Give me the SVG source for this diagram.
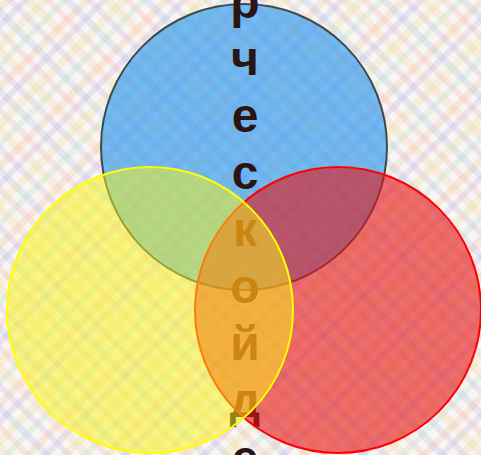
<svg xmlns="http://www.w3.org/2000/svg" width="481" height="455" viewBox="0 0 481 455">
<defs>
<pattern id="plaid" width="56" height="56" patternUnits="userSpaceOnUse" patternTransform="rotate(45)">
<rect width="56" height="56" fill="#f8f5f3"/>
<rect x="2" width="7" height="56" fill="#f0b080" opacity="0.22"/>
<rect x="15" width="6" height="56" fill="#b0a0e0" opacity="0.22"/>
<rect x="28" width="8" height="56" fill="#e8d870" opacity="0.2"/>
<rect x="43" width="6" height="56" fill="#90e0b0" opacity="0.2"/>
<rect y="5" width="56" height="7" fill="#a0b0e0" opacity="0.22"/>
<rect y="19" width="56" height="6" fill="#f0a0b0" opacity="0.2"/>
<rect y="32" width="56" height="8" fill="#f0c890" opacity="0.22"/>
<rect y="46" width="56" height="6" fill="#c0a0d8" opacity="0.2"/>
</pattern>
<style>
.letter{font-family:"Liberation Sans",Arial,sans-serif;font-weight:bold;font-size:48px;fill:#2b1512;text-anchor:middle}
</style>
</defs>
<rect width="481" height="455" fill="url(#plaid)"/>
<g id="blue">
<circle cx="244" cy="147" r="143" fill="rgb(45,152,240)" fill-opacity="0.65" stroke="#3d4b4d" stroke-width="2"/>
</g>
<g id="letters">
<text class="letter" x="245" y="18">р</text>
<text class="letter" x="245" y="75">ч</text>
<text class="letter" x="245" y="132">е</text>
<text class="letter" x="245" y="189">с</text>
<text class="letter" x="245" y="246">к</text>
<text class="letter" x="245" y="303">о</text>
<text class="letter" x="245" y="360">й</text>
<text class="letter" x="245" y="417">д</text>
<text class="letter" x="245" y="474">е</text>
</g>
<g id="red">
<circle cx="338" cy="310" r="143" fill="rgb(230,20,20)" fill-opacity="0.6" stroke="#ff0000" stroke-width="2"/>
</g>
<g id="yellow">
<circle cx="150" cy="310" r="143" fill="rgb(250,245,20)" fill-opacity="0.5" stroke="#ffff00" stroke-width="2"/>
</g>
</svg>
